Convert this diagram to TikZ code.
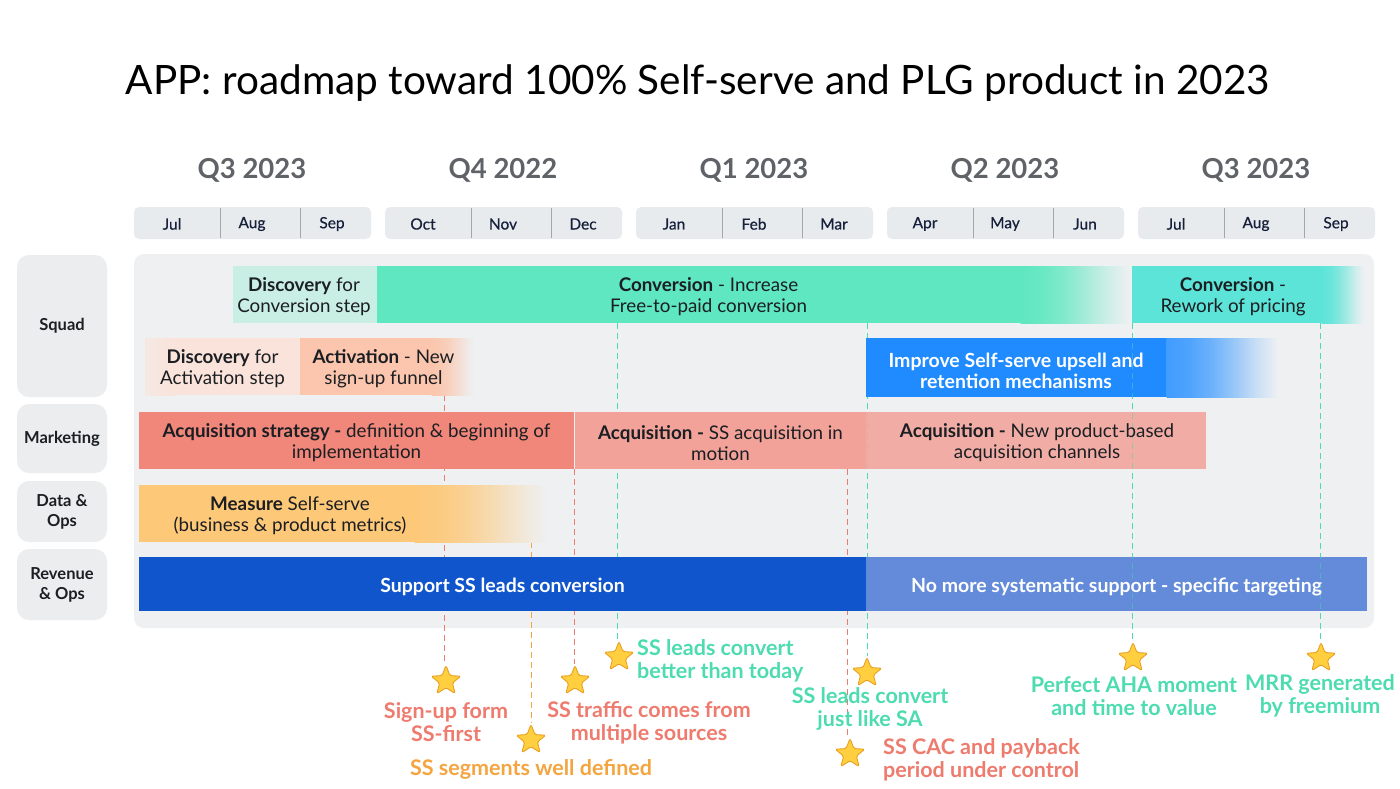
\documentclass[tikz,border=0pt]{standalone}
\usepackage{fontspec}
\setmainfont{Lato}
\newfontfamily\latomed{Lato}[FakeBold=0.6]
\usetikzlibrary{shapes.geometric}
\definecolor{panel}{HTML}{EEF0F2}
\definecolor{rowbg}{HTML}{EBEDEF}
\definecolor{monthbg}{HTML}{E8EBEE}
\definecolor{monthsep}{HTML}{A3A7AB}
\definecolor{qgrey}{HTML}{5F6368}
\definecolor{ink}{HTML}{1B1E22}
\definecolor{navy}{HTML}{17203A}
\definecolor{discconv}{HTML}{C9EEE3}
\definecolor{conv}{HTML}{5EE7C0}
\definecolor{rework}{HTML}{5DE4D8}
\definecolor{discact}{HTML}{FAE3DA}
\definecolor{act}{HTML}{FBC6AD}
\definecolor{improve}{HTML}{1F8BFE}
\definecolor{acqstrat}{HTML}{F0877A}
\definecolor{acqmotion}{HTML}{F2A298}
\definecolor{acqnew}{HTML}{F2A69D}
\definecolor{measure}{HTML}{FDC878}
\definecolor{support}{HTML}{1155CC}
\definecolor{nomore}{HTML}{5C86D8}
\definecolor{redlab}{HTML}{EE7B6E}
\definecolor{orangelab}{HTML}{F5A540}
\definecolor{teallab}{HTML}{4DDCB0}
\definecolor{starfill}{HTML}{FFCF40}
\definecolor{starline}{HTML}{E8A020}
\colorlet{fadecol}{conv}
\pgfdeclarehorizontalshading[fadecol,panel]{barfade}{100bp}{%
  color(0bp)=(fadecol); color(25bp)=(fadecol);
  color(35bp)=(fadecol!92!panel); color(45bp)=(fadecol!75!panel);
  color(55bp)=(fadecol!50!panel); color(65bp)=(fadecol!22!panel);
  color(75bp)=(panel); color(100bp)=(panel)}
\begin{document}
\begin{tikzpicture}[x=1pt,y=-1pt,
  bartext/.style={inner sep=0,outer sep=0,align=center,text=ink,font=\fontsize{18.8}{21}\selectfont},
  whitetext/.style={inner sep=0,outer sep=0,align=center,text=white,font=\fontsize{19.5}{21}\selectfont\bfseries},
  rowbox/.style={fill=rowbg,rounded corners=12,minimum width=90,inner sep=0,align=center,font=\fontsize{16.5}{20}\selectfont\bfseries,text=ink},
  qhead/.style={font=\fontsize{27.5}{32}\selectfont\bfseries,text=qgrey},
  month/.style={font=\fontsize{15.5}{18}\latomed,text=navy},
  dashline/.style={dash pattern=on 6pt off 4pt,line width=1pt},
  reddash/.style={dashline,draw=redlab},
  orangedash/.style={dashline,draw=orangelab},
  tealdash/.style={dashline,draw=teallab},
  milestone/.style={star,star points=5,star point ratio=2.3,minimum size=31,inner sep=0,fill=starfill,draw=starline,line width=0.9pt,rounded corners=1.5pt},
  lab/.style={font=\fontsize{21.5}{23}\selectfont\bfseries,align=center,inner sep=0}
]
\fill[white] (0,0) rectangle (1400,788);
\useasboundingbox (0,0) rectangle (1400,788);

% title
\node[font=\fontsize{40.5}{46}\selectfont,text=black] (title) at (698,83) {APP: roadmap toward 100\% Self-serve and PLG product in 2023};

% quarters and months
\foreach \g/\gx/\q/\ma/\mb/\mc in {1/134/Q3 2023/Jul/Aug/Sep,2/385/Q4 2022/Oct/Nov/Dec,3/636/Q1 2023/Jan/Feb/Mar,4/887/Q2 2023/Apr/May/Jun,5/1138/Q3 2023/Jul/Aug/Sep}{
  \fill[monthbg,rounded corners=5] (\gx,207) rectangle ++(237,32);
  \draw[monthsep,line width=0.8pt] (\gx+86,208) -- ++(0,30);
  \draw[monthsep,line width=0.8pt] (\gx+166,208) -- ++(0,30);
  \node[qhead] (q\g) at (\gx+118,170) {\q};
  \node[month] (m\g-a) at (\gx+38,224) {\ma};
  \node[month] (m\g-b) at (\gx+118,224) {\mb};
  \node[month] (m\g-c) at (\gx+198,224) {\mc};
}

% row labels
\node[rowbox,minimum height=142] (squad) at (62,326) {\raisebox{-2pt}{Squad}};
\node[rowbox,minimum height=69] (marketing) at (62,438.5) {\raisebox{-2pt}{Marketing}};
\node[rowbox,minimum height=61] (data) at (62,511.5) {Data \&\\Ops};
\node[rowbox,minimum height=71] (revenue) at (62,584.5) {Revenue\\\& Ops};

% panel
\fill[panel,rounded corners=10] (134,254) rectangle (1374,628);

% milestone anchors
\coordinate (c1) at (444,395);
\coordinate (c2) at (531,542);
\coordinate (c3) at (574,469);
\coordinate (c4) at (617,323);
\coordinate (c5) at (867,323);
\coordinate (c6) at (847,469);
\coordinate (c7) at (1132,323);
\coordinate (c8) at (1320,323);

% stars
\node[milestone] (s1) at (446,681) {};
\node[milestone] (s2) at (531,740) {};
\node[milestone] (s3) at (575,681) {};
\node[milestone] (s4) at (619,657) {};
\node[milestone] (s5) at (867,673) {};
\node[milestone] (s6) at (850,754) {};
\node[milestone] (s7) at (1133,658) {};
\node[milestone] (s8) at (1321,658) {};

% dashed connectors (behind bars)
\draw[reddash] (c1) -- (c1 |- s1.north);
\draw[orangedash] (c2) -- (c2 |- s2.north);
\draw[reddash] (c3) -- (c3 |- s3.north);
\draw[tealdash] (c4) -- (c4 |- s4.north);
\draw[tealdash] (c5) -- (c5 |- s5.north);
\draw[reddash] (c6) -- (c6 |- s6.north);
\draw[tealdash] (c7) -- (c7 |- s7.north);
\draw[tealdash] (c8) -- (c8 |- s8.north);

% ---- bars: squad row 1
\fill[discconv] (233,266) rectangle (377,323);
\fill[conv] (377,266) rectangle (1021,323);
\colorlet{fadecol}{conv}
\begin{scope}\clip (1020.5,266) rectangle (1130,323);
\shade[shading=barfade] (1020.5,266) rectangle (1130,323);\end{scope}
\fill[rework] (1132,266) rectangle (1322,323);
\colorlet{fadecol}{rework}
\begin{scope}\clip (1321.5,266) rectangle (1364,323);
\shade[shading=barfade] (1321.5,266) rectangle (1364,323);\end{scope}
% squad row 2
\shade[left color=discact!60!panel,right color=discact] (145,338) rectangle (175,395);
\fill[discact] (175,338) rectangle (300,395);
\fill[act] (300,338) rectangle (432,395);
\colorlet{fadecol}{act}
\begin{scope}\clip (431.5,338) rectangle (474,395);
\shade[shading=barfade] (431.5,338) rectangle (474,395);\end{scope}
\fill[improve] (866,338) rectangle (1167,397);
\colorlet{fadecol}{improve!85!white}
\begin{scope}\clip (1166.5,338) rectangle (1278,397);
\shade[shading=barfade] (1166.5,338) rectangle (1278,397);\end{scope}
% marketing
\fill[acqstrat] (139,412) rectangle (574,469);
\fill[acqmotion] (575,412) rectangle (866,469);
\fill[acqnew,fill opacity=0.9] (866,412) rectangle (1206,469);
% data
\fill[measure] (139,485) rectangle (415,542);
\colorlet{fadecol}{measure}
\begin{scope}\clip (414.5,485) rectangle (548,542);
\shade[shading=barfade] (414.5,485) rectangle (548,542);\end{scope}
% revenue
\fill[support] (139,557) rectangle (866,611);
\fill[nomore,fill opacity=0.95] (866,557) rectangle (1367,611);

% lines visible through right-hand bars
\draw[tealdash,opacity=0.45] (c7) -- (c7 |- s7.north);
\draw[tealdash,opacity=0.45] (c8) -- (c8 |- s8.north);

% ---- bar texts
\node[bartext] (discconvt) at (304,297) {\textbf{Discovery} for\\Conversion step};
\node[bartext] (convt) at (708.5,297) {\textbf{Conversion} - Increase\\Free-to-paid conversion};
\node[bartext] (reworkt) at (1233,297) {\textbf{Conversion} -\\Rework of pricing};
\node[bartext] (discactt) at (222.5,369) {\textbf{Discovery} for\\Activation step};
\node[bartext] (actt) at (383.5,369) {\textbf{Activation} - New\\sign-up funnel};
\node[whitetext] (improvet) at (1016,370.5) {Improve Self-serve upsell and\\retention mechanisms};
\node[bartext] (acqstratt) at (356.5,443) {\textbf{Acquisition strategy -} definition \& beginning of\\implementation};
\node[bartext] (acqmotiont) at (720.5,443) {\textbf{Acquisition -} SS acquisition in\\motion};
\node[bartext] (acqnewt) at (1037,443) {\textbf{Acquisition -} New product-based\\acquisition channels};
\node[bartext] (measuret) at (290,516) {\textbf{Measure} Self-serve\\(business \& product metrics)};
\node[whitetext] (supportt) at (502.5,587) {Support SS leads conversion};
\node[whitetext] (nomoret) at (1116.5,587) {No more systematic support - specific targeting};

% ---- milestone labels
\node[lab,text=redlab] (l1) at (446,722.5) {Sign-up form\\SS-first};
\node[lab,text=orangelab] (l2) at (531,769) {SS segments well defined};
\node[lab,text=redlab] (l3) at (649,722.5) {SS traffic comes from\\multiple sources};
\node[lab,text=teallab,align=left,anchor=west] (l4) at (637,660.5) {SS leads convert\\better than today};
\node[lab,text=teallab] (l5) at (870,708.5) {SS leads convert\\just like SA};
\node[lab,text=redlab,align=left,anchor=west] (l6) at (883,759.5) {SS CAC and payback\\period under control};
\node[lab,text=teallab] (l7) at (1134,696) {Perfect AHA moment\\and time to value};
\node[lab,text=teallab] (l8) at (1320,696) {MRR generated\\by freemium};
\end{tikzpicture}
\end{document}
